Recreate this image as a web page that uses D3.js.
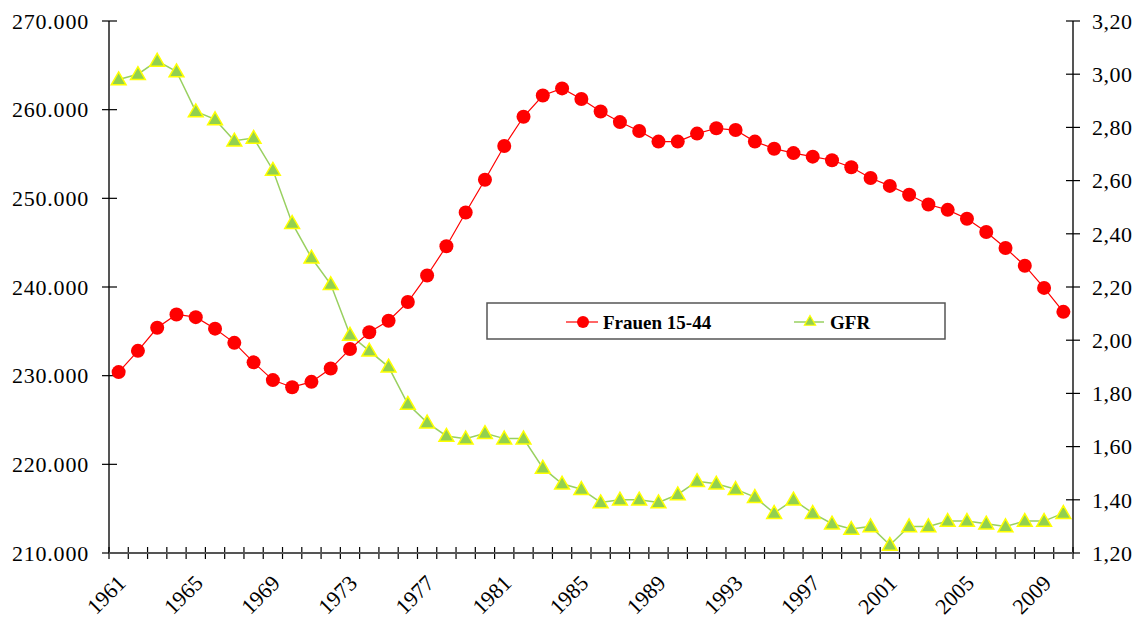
<!DOCTYPE html>
<html>
<head>
<meta charset="utf-8">
<script src="https://cdn.jsdelivr.net/npm/d3@7"></script>
<style>
  body { margin: 0; background: #fff; }
  svg { display: block; font-family: "Liberation Serif", "Times New Roman", serif; }
</style>
</head>
<body>
<div id="chart"></div>
<script>
const years = d3.range(1961, 2011);

// Frauen 15-44 (left axis)
const frauen = [
  230400, 232800, 235400, 236900, 236600, 235300, 233700, 231500, 229500, 228700,
  229300, 230800, 233000, 234900, 236200, 238300, 241300, 244600, 248400, 252100,
  255900, 259200, 261600, 262400, 261200, 259800, 258600, 257600, 256400, 256400,
  257300, 257900, 257700, 256400, 255600, 255100, 254700, 254300, 253500, 252300,
  251400, 250400, 249300, 248700, 247700, 246200, 244400, 242400, 239900, 237200
];

// GFR (right axis)
const gfr = [
  2.98, 3.00, 3.05, 3.01, 2.86, 2.83, 2.75, 2.76, 2.64, 2.44,
  2.31, 2.21, 2.02, 1.96, 1.90, 1.76, 1.69, 1.64, 1.63, 1.65,
  1.63, 1.63, 1.52, 1.46, 1.44, 1.39, 1.40, 1.40, 1.39, 1.42,
  1.47, 1.46, 1.44, 1.41, 1.35, 1.40, 1.35, 1.31, 1.29, 1.30,
  1.23, 1.30, 1.30, 1.32, 1.32, 1.31, 1.30, 1.32, 1.32, 1.35
];

const leftTicks = [210000, 220000, 230000, 240000, 250000, 260000, 270000];
const rightTicks = [1.2, 1.4, 1.6, 1.8, 2.0, 2.2, 2.4, 2.6, 2.8, 3.0, 3.2];
const yearLabels = d3.range(1961, 2011, 4);

const width = 1142, height = 620;
const plotL = 109, plotR = 1073, plotT = 21, plotB = 553;

const de = d3.formatLocale({decimal: ",", thousands: ".", grouping: [3], currency: ["", "€"]});
const fmtLeft = de.format(",.0f");
const fmtRight = de.format(".2f");

const svg = d3.select("#chart").append("svg")
  .attr("width", width)
  .attr("height", height);

const x = d3.scaleBand().domain(years).range([plotL, plotR]).padding(0);
const xc = d => x(d) + x.bandwidth() / 2;
const yL = d3.scaleLinear().domain([210000, 270000]).range([plotB, plotT]);
const yR = d3.scaleLinear().domain([1.2, 3.2]).range([plotB, plotT]);

// left axis
const gL = svg.append("g");
gL.append("line")
  .attr("x1", plotL).attr("x2", plotL).attr("y1", plotT).attr("y2", plotB)
  .attr("stroke", "#555").attr("stroke-width", 2);
gL.selectAll(".t").data(leftTicks).enter().append("line")
  .attr("x1", plotL - 7).attr("x2", plotL + 8)
  .attr("y1", d => yL(d)).attr("y2", d => yL(d))
  .attr("stroke", "#000").attr("stroke-width", 1.2);
gL.selectAll("text").data(leftTicks).enter().append("text")
  .attr("x", 89).attr("y", d => yL(d)).attr("dy", "0.35em")
  .attr("text-anchor", "end")
  .attr("font-size", 22)
  .attr("letter-spacing", 0.8)
  .text(d => fmtLeft(d));

// right axis
const gR = svg.append("g");
gR.append("line")
  .attr("x1", plotR).attr("x2", plotR).attr("y1", plotT).attr("y2", plotB)
  .attr("stroke", "#555").attr("stroke-width", 2);
gR.selectAll(".t").data(rightTicks).enter().append("line")
  .attr("x1", plotR - 7).attr("x2", plotR + 7)
  .attr("y1", d => yR(d)).attr("y2", d => yR(d))
  .attr("stroke", "#000").attr("stroke-width", 1.2);
gR.selectAll("text").data(rightTicks).enter().append("text")
  .attr("x", 1092).attr("y", d => yR(d)).attr("dy", "0.35em")
  .attr("font-size", 22)
  .attr("letter-spacing", 0.5)
  .text(d => fmtRight(d));

// bottom axis, ticks at category boundaries
const gB = svg.append("g");
gB.selectAll(".t").data(d3.range(years.length + 1)).enter().append("line")
  .attr("x1", i => plotL + i * x.bandwidth()).attr("x2", i => plotL + i * x.bandwidth())
  .attr("y1", plotB - 6).attr("y2", plotB + 6)
  .attr("stroke", "#000").attr("stroke-width", 1.2);
gB.append("line")
  .attr("x1", plotL).attr("x2", plotR).attr("y1", plotB).attr("y2", plotB)
  .attr("stroke", "#555").attr("stroke-width", 2);
gB.selectAll("text").data(yearLabels).enter().append("text")
  .attr("transform", d => `translate(${xc(d) + 3},${plotB + 26}) rotate(-45)`)
  .attr("text-anchor", "end")
  .attr("dy", "0.35em")
  .attr("font-size", 22)
  .text(d => d);

// series
const lineL = d3.line().x((d, i) => xc(years[i])).y(d => yL(d));
const lineR = d3.line().x((d, i) => xc(years[i])).y(d => yR(d));
const tri = d3.symbol().type(d3.symbolTriangle).size(95);

svg.append("path").datum(gfr)
  .attr("d", lineR).attr("fill", "none")
  .attr("stroke", "#99d060").attr("stroke-width", 1.5);

svg.append("path").datum(frauen)
  .attr("d", lineL).attr("fill", "none")
  .attr("stroke", "#ff0000").attr("stroke-width", 1.2);

svg.selectAll(".dot").data(frauen).enter().append("circle")
  .attr("cx", (d, i) => xc(years[i]))
  .attr("cy", d => yL(d))
  .attr("r", 7)
  .attr("fill", "#ff0000");

svg.selectAll(".tri").data(gfr).enter().append("path")
  .attr("d", tri)
  .attr("transform", (d, i) => `translate(${xc(years[i])},${yR(d) + 1})`)
  .attr("fill", "#92d050")
  .attr("stroke", "#ffff00")
  .attr("stroke-width", 1.5);

// legend
const lg = svg.append("g");
lg.append("rect")
  .attr("x", 487).attr("y", 303).attr("width", 458).attr("height", 36)
  .attr("fill", "#fff").attr("stroke", "#555").attr("stroke-width", 1.5);
lg.append("line").attr("x1", 566).attr("x2", 598).attr("y1", 322).attr("y2", 322)
  .attr("stroke", "#ff0000").attr("stroke-width", 1.2);
lg.append("circle").attr("cx", 583).attr("cy", 322).attr("r", 6).attr("fill", "#ff0000");
lg.append("text").attr("x", 603).attr("y", 322).attr("dy", "0.35em")
  .attr("font-size", 19).attr("font-weight", "bold").text("Frauen 15-44");
lg.append("line").attr("x1", 794).attr("x2", 824).attr("y1", 322).attr("y2", 322)
  .attr("stroke", "#99d060").attr("stroke-width", 1.5);
lg.append("path").attr("d", d3.symbol().type(d3.symbolTriangle).size(55))
  .attr("transform", "translate(810,322)")
  .attr("fill", "#92d050").attr("stroke", "#ffff00").attr("stroke-width", 1.2);
lg.append("text").attr("x", 830).attr("y", 322).attr("dy", "0.35em")
  .attr("font-size", 19).attr("font-weight", "bold").text("GFR");
</script>
</body>
</html>
